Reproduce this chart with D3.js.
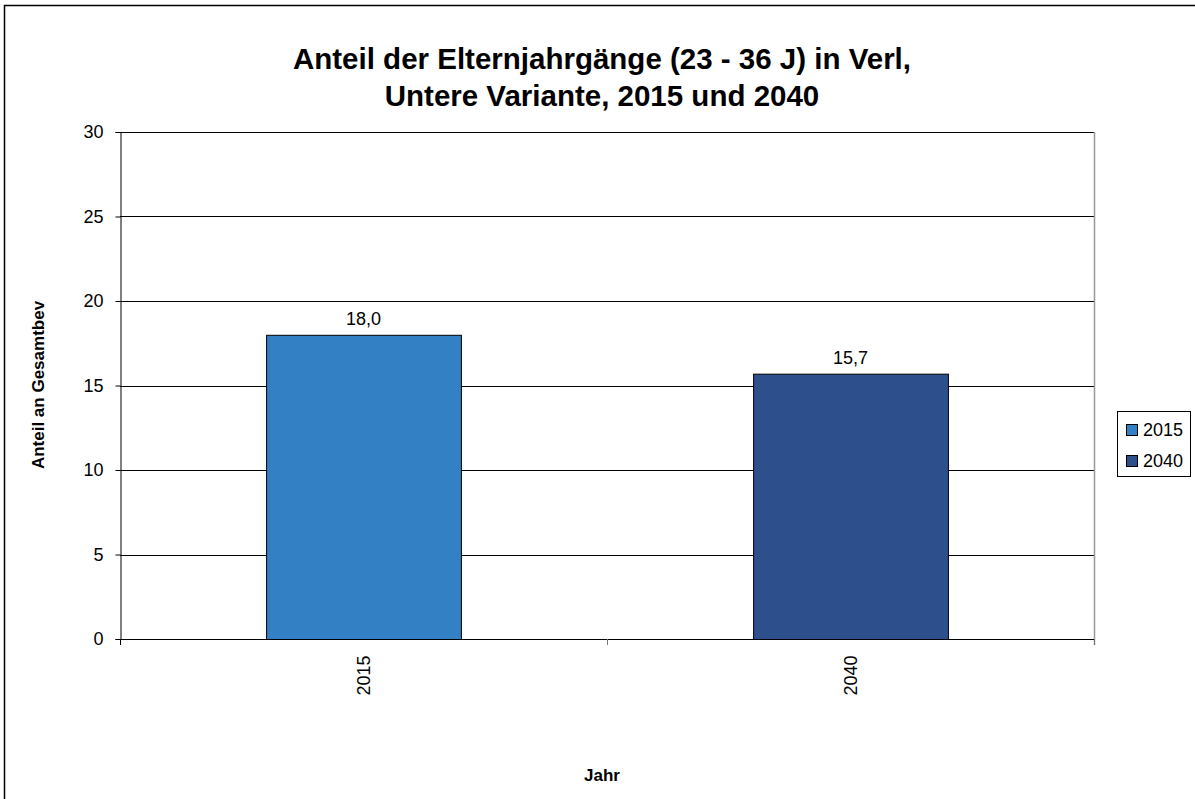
<!DOCTYPE html>
<html><head><meta charset="utf-8">
<script src="https://cdn.jsdelivr.net/npm/d3@7"></script>
<style>body{margin:0;background:#fff}svg{display:block;font-family:"Liberation Sans",Arial,sans-serif}</style>
</head><body>
<svg id="c" width="1195" height="799"></svg>
<script>
const categories = ["2015", "2040"];
const values = [18.0, 15.7];
const seriesColors = ["#3380C5", "#2D4F8C"];
const yTicks = [0, 5, 10, 15, 20, 25, 30];
const titleLines = ["Anteil der Elternjahrgänge (23 - 36 J) in Verl,", "Untere Variante, 2015 und 2040"];

const svg = d3.select("#c");
const m = {l:120, t:132, r:1094, b:639};

svg.append("rect").attr("x",4.5).attr("y",5.5).attr("width",1200).attr("height",900)
  .attr("fill","#fff").attr("stroke","#000").attr("stroke-width",1.5);

const x = d3.scaleBand().domain(categories).range([m.l, m.r]).paddingInner(0.6).paddingOuter(0.3);
const xb = d3.scaleBand().domain(categories).range([m.l, m.r]);
const y = d3.scaleLinear().domain([0,30]).range([m.b, m.t]);

// gridlines
svg.append("g").selectAll("line").data(yTicks.filter(d=>d>0)).join("line")
  .attr("x1",m.l).attr("x2",m.r).attr("y1",d=>Math.round(y(d))+0.5).attr("y2",d=>Math.round(y(d))+0.5)
  .attr("stroke","#000").attr("stroke-width",1);
// right border of plot
svg.append("line").attr("x1",m.r+0.5).attr("x2",m.r+0.5).attr("y1",m.t).attr("y2",m.b+6)
  .attr("stroke","#999").attr("stroke-width",1.5);

// bars
svg.append("g").selectAll("rect").data(categories).join("rect")
  .attr("x",d=>x(d)+0.5).attr("width",x.bandwidth())
  .attr("y",(d,i)=>y(values[i])+0.5).attr("height",(d,i)=>y(0)-y(values[i]))
  .attr("fill",(d,i)=>seriesColors[i]).attr("stroke","#000").attr("stroke-width",1);

// value labels
svg.append("g").selectAll("text").data(categories).join("text")
  .attr("x",d=>x(d)+x.bandwidth()/2).attr("y",(d,i)=>y(values[i])-10)
  .attr("text-anchor","middle").attr("font-size",18)
  .text((d,i)=>d3.format(".1f")(values[i]).replace(".",","));

// y axis
const ya = svg.append("g").attr("transform",`translate(${m.l+0.5},0)`)
  .call(d3.axisLeft(y).tickValues(yTicks).tickSize(5).tickPadding(12));
ya.select(".domain").attr("stroke","#000");
ya.selectAll("text").attr("font-size",18).attr("font-family","Liberation Sans, Arial, sans-serif").attr("fill","#000");

// x axis
const xa = svg.append("g").attr("transform",`translate(0,${m.b+0.5})`)
  .call(d3.axisBottom(xb).tickSize(0).tickPadding(0));
xa.select(".domain").attr("stroke","#000").attr("d",`M${m.l},0H${m.r}`);
xa.selectAll(".tick text").attr("font-size",18).attr("font-family","Liberation Sans, Arial, sans-serif").attr("fill","#000")
  .attr("transform","rotate(-90)").attr("text-anchor","end").attr("dy","0.35em").attr("x",-16).attr("y",0);
// category boundary ticks
svg.append("g").selectAll("line").data([m.l, (m.l+m.r)/2, m.r]).join("line")
  .attr("x1",d=>Math.round(d)+0.5).attr("x2",d=>Math.round(d)+0.5).attr("y1",m.b).attr("y2",m.b+6)
  .attr("stroke",(d,i)=>i===0?"#000":"#777").attr("stroke-width",1);

// title
svg.append("g").selectAll("text").data(titleLines).join("text")
  .attr("x",602).attr("y",(d,i)=>69+i*37).attr("text-anchor","middle")
  .attr("font-size",29.5).attr("font-weight","bold").text(d=>d);

// axis titles
svg.append("text").attr("transform","translate(44,385) rotate(-90)").attr("text-anchor","middle")
  .attr("font-size",17).attr("font-weight","bold").text("Anteil an Gesamtbev");
svg.append("text").attr("x",602).attr("y",781).attr("text-anchor","middle")
  .attr("font-size",17).attr("font-weight","bold").text("Jahr");

// legend
const lg = svg.append("g");
lg.append("rect").attr("x",1117.5).attr("y",411.5).attr("width",73).attr("height",65)
  .attr("fill","#fff").attr("stroke","#000");
const li = lg.selectAll("g").data(categories).join("g")
  .attr("transform",(d,i)=>`translate(1126,${424+i*31})`);
li.append("rect").attr("x",0.5).attr("y",0.5).attr("width",11).attr("height",11)
  .attr("fill",(d,i)=>seriesColors[i]).attr("stroke","#000");
li.append("text").attr("x",17).attr("y",6).attr("dy","0.35em").attr("font-size",18).text(d=>d);
</script>
</body></html>
